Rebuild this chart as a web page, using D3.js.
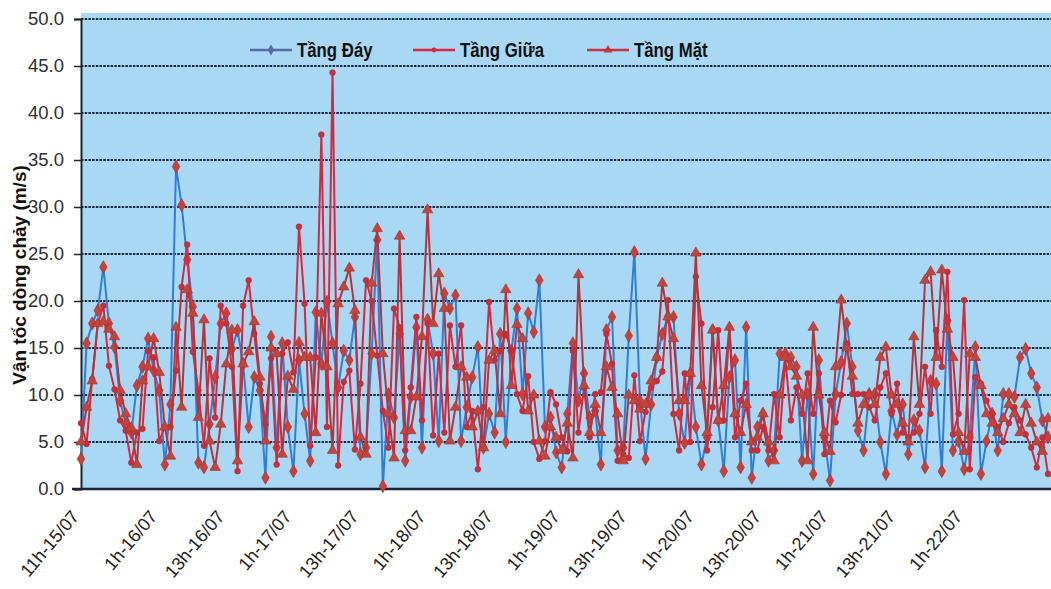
<!DOCTYPE html>
<html>
<head>
<meta charset="utf-8">
<script src="https://cdn.jsdelivr.net/npm/d3@7/dist/d3.min.js"></script>
<style>
body{margin:0;background:#fff;}
svg{display:block;font-family:Arial,"Liberation Sans",sans-serif;}
</style>
</head>
<body>
<div id="chart"></div>
<script>
// hourly values, first point = 11h-15/07
let tang_day = [
    3.2,15.5,17.6,19.0,23.6,17.6,15.1,9.4,6.9,6.0,
    11.0,13.0,16.0,12.6,10.5,2.6,9.0,34.3,30.2,24.4,
    19.4,2.8,2.3,6.9,11.9,17.6,18.7,14.9,16.9,13.3,
    6.6,11.9,10.5,1.2,16.2,4.4,15.5,6.6,1.9,13.7,
    8.0,3.0,18.8,13.3,19.9,15.5,10.8,14.7,13.7,18.3,
    3.7,4.4,14.4,26.5,0.3,10.1,7.6,16.5,3.0,9.8,
    17.2,4.4,18.0,14.4,5.1,20.8,19.2,20.6,5.1,8.7,
    11.9,15.1,4.4,8.0,6.0,16.5,5.0,14.7,19.2,10.1,
    18.7,16.7,22.2,6.6,7.6,3.9,2.3,8.0,15.5,9.4,
    12.3,7.6,8.3,2.6,16.9,18.3,4.1,4.4,16.3,25.2,
    9.4,3.2,9.0,14.0,16.5,18.3,18.3,8.0,4.9,12.3,
    6.6,2.6,5.5,16.9,7.3,1.9,11.9,13.7,2.3,17.2,
    1.2,6.6,8.0,3.0,4.1,14.4,14.4,14.0,13.0,3.0,
    10.1,1.6,13.7,5.5,0.9,10.1,13.5,17.6,13.0,6.2,
    4.1,10.1,10.1,5.0,1.6,8.3,5.8,9.0,3.7,7.3,
    6.2,2.3,11.5,11.2,1.9,17.9,4.1,5.1,2.1,5.5,
    15.1,1.6,5.1,8.0,4.1,10.1,10.1,9.8,14.0,14.9,
    12.3,10.8,7.3,5.5
];
let tang_giua = [
    7.0,4.8,11.7,17.6,19.5,13.1,10.6,7.3,6.2,2.8,
    6.0,6.4,14.7,14.0,5.1,6.6,6.6,12.6,21.5,26.0,
    14.6,10.5,4.6,13.9,7.6,19.5,17.6,13.0,1.9,19.5,
    22.2,16.5,11.2,6.9,13.9,2.6,14.4,15.6,12.4,27.9,
    19.7,4.6,14.0,37.7,6.6,44.3,2.5,11.4,12.6,4.2,
    11.2,22.2,20.0,14.2,8.3,4.4,19.2,17.2,4.1,10.8,
    18.3,7.3,17.6,5.7,14.4,6.0,17.4,13.0,17.4,6.6,
    8.3,2.1,8.7,19.9,13.7,14.7,16.5,14.7,10.1,8.3,
    12.0,5.0,3.2,5.1,10.3,9.0,5.5,4.0,14.7,6.0,
    10.8,5.5,10.1,10.3,16.5,13.3,3.0,3.7,3.3,12.1,
    5.1,8.2,10.8,11.5,12.5,20.1,8.0,4.1,12.3,5.0,
    22.6,17.6,4.1,8.7,16.9,7.3,17.2,5.5,9.4,11.2,
    4.1,4.1,6.6,4.1,10.1,5.5,14.0,7.3,10.8,8.0,
    12.3,8.0,12.3,3.7,9.4,7.1,10.0,15.5,10.1,10.1,
    10.1,8.7,7.3,10.8,12.3,8.0,11.2,6.0,5.5,6.0,
    8.0,13.0,8.0,16.9,13.0,23.1,5.8,8.0,20.1,2.1,
    11.9,11.2,9.4,8.0,6.6,5.0,7.0,8.7,7.3,5.8,
    4.4,2.3,5.5,1.6
];
let tang_mat = [
    5.0,8.7,11.5,17.6,17.8,17.0,16.2,10.5,8.0,6.5,
    2.6,11.5,13.0,16.0,12.4,6.6,3.5,17.2,8.7,21.2,
    18.7,7.6,18.0,5.1,2.3,6.9,13.3,16.9,3.0,13.3,
    14.6,17.8,11.9,5.1,15.0,14.4,3.7,12.0,10.6,15.6,
    14.0,14.0,6.0,18.7,13.0,4.1,19.7,21.5,23.5,19.0,
    5.5,3.7,21.9,27.7,14.4,8.0,3.3,26.9,6.2,6.2,
    9.8,16.2,29.7,17.6,22.9,19.2,5.1,8.7,13.0,11.9,
    6.6,8.3,4.4,13.7,14.7,8.0,21.2,11.0,17.5,16.0,
    8.3,10.0,5.1,3.5,6.6,5.5,4.1,7.0,3.3,22.8,
    11.0,6.0,9.0,6.0,13.0,10.8,8.0,3.0,10.0,9.4,
    8.5,9.0,11.5,14.0,21.9,18.3,16.0,9.4,9.4,12.3,
    25.1,11.0,6.0,16.9,7.3,11.0,17.2,8.0,6.0,9.0,
    5.0,5.5,8.0,5.0,3.0,10.0,14.0,13.0,12.0,10.0,
    3.0,17.2,10.0,6.0,4.0,13.0,20.1,15.0,12.0,7.0,
    9.0,10.0,9.0,14.0,15.1,10.0,9.0,7.0,5.0,16.2,
    9.0,22.2,23.1,14.0,23.3,17.0,14.0,6.0,4.0,14.4,
    14.0,11.0,8.0,7.0,6.0,7.5,9.0,8.0,6.0,9.0,
    7.0,5.0,4.0,7.5
];
let series_names = ['Tầng Đáy','Tầng Giữa','Tầng Mặt'];
let tick_index = [0,14,26,38,50,62,74,86,98,110,122,134,146,158];
let tick_labels = ['11h-15/07','1h-16/07','13h-16/07','1h-17/07','13h-17/07','1h-18/07','13h-18/07',
    '1h-19/07','13h-19/07','1h-20/07','13h-20/07','1h-21/07','13h-21/07','1h-22/07'];
let y_ticks = [0,5,10,15,20,25,30,35,40,45,50];

let chart_width = 1051;
let chart_height = 589;
let left = 81, top_y = 19, bottom = 489;

const xScale = d3.scaleLinear().domain([0,tang_day.length-1]).range([left,1048]);
const yScale = d3.scaleLinear().domain([0,50]).range([bottom,top_y]);

let svg = d3.select('#chart').append('svg')
    .attr('width',chart_width)
    .attr('height',chart_height);

// plot area
svg.append('rect')
    .attr('x',left).attr('y',13)
    .attr('width',chart_width-left).attr('height',bottom-13)
    .attr('fill','#a8d8f4');

// grid
svg.append('g').selectAll('line')
    .data(y_ticks.filter(d=>d>0))
    .enter().append('line')
    .attr('x1',left).attr('x2',chart_width)
    .attr('y1',d=>yScale(d)).attr('y2',d=>yScale(d))
    .attr('stroke','#1d2a47')
    .attr('stroke-width',2)
    .attr('stroke-dasharray','2.5,1.2');

// y axis
let yAxis = d3.axisLeft(yScale).tickValues(y_ticks).tickFormat(d3.format('.1f')).tickSize(7).tickPadding(10);
let yg = svg.append('g').attr('transform','translate('+left+',0)').call(yAxis);
yg.select('.domain').attr('stroke','#1b2433').attr('stroke-width',2);
yg.selectAll('.tick line').attr('stroke','#1b2433').attr('stroke-width',1.5);
yg.selectAll('.tick text').attr('fill','#2e2e2e').style('font-size','18.5px');

svg.append('line')
    .attr('x1',72).attr('x2',chart_width)
    .attr('y1',bottom).attr('y2',bottom)
    .attr('stroke','#1b2433').attr('stroke-width',2.5);

// x labels
svg.append('g').selectAll('text')
    .data(tick_index)
    .enter().append('text')
    .attr('transform',(d)=>'translate('+(xScale(d)-1)+','+(bottom+28)+') rotate(-50)')
    .attr('text-anchor','end')
    .attr('fill','#222')
    .style('font-size','18px')
    .text((d,i)=>tick_labels[i]);

// y title
svg.append('text')
    .attr('transform','translate(26,275) rotate(-90)')
    .attr('text-anchor','middle')
    .attr('fill','#111')
    .style('font-size','19px')
    .style('font-weight','bold')
    .text('Vận tốc dòng chảy (m/s)');

let styles = [
    {data:tang_day, color:'#2f7fd8', marker:d3.symbolDiamond, size:50, fill:'#c4423c', legendColor:'#5868a8'},
    {data:tang_giua, color:'#d8283c', marker:d3.symbolCircle, size:26, fill:'#cc2c3c', legendColor:'#d8283c'},
    {data:tang_mat, color:'#b5363a', marker:d3.symbolTriangle, size:48, fill:'#c2453c', legendColor:'#c8343e'}
];

let plot = svg.append('g');
let line = d3.line()
    .x((d,i)=>xScale(i))
    .y(d=>yScale(d));

styles.forEach(function(s){
    let g = plot.append('g');
    g.append('path')
        .datum(s.data)
        .attr('d',line)
        .attr('fill','none')
        .attr('stroke',s.color)
        .attr('stroke-width',2);
    g.selectAll('path.pt')
        .data(s.data)
        .enter().append('path')
        .attr('class','pt')
        .attr('d',d3.symbol().type(s.marker).size(s.size))
        .attr('transform',(d,i)=>'translate('+xScale(i)+','+yScale(d)+')')
        .attr('fill',s.fill)
        .attr('stroke','#a83030')
        .attr('stroke-width',0.6);
});

// legend
let legend_x = [250,413,587];
let legend = svg.append('g');
styles.forEach(function(s,i){
    let lg = legend.append('g').attr('transform','translate('+legend_x[i]+',50)');
    lg.append('line').attr('x1',0).attr('x2',42).attr('y1',0).attr('y2',0)
        .attr('stroke',s.legendColor).attr('stroke-width',2.5);
    lg.append('path').attr('d',d3.symbol().type(s.marker).size(s.size*0.7))
        .attr('transform','translate(21,0)')
        .attr('fill',s.legendColor);
    lg.append('text')
        .attr('transform','translate(47,7) scale(0.84,1)')
        .attr('fill','#111')
        .style('font-size','20px')
        .style('font-weight','bold')
        .text(series_names[i]);
});
</script>
</body>
</html>
